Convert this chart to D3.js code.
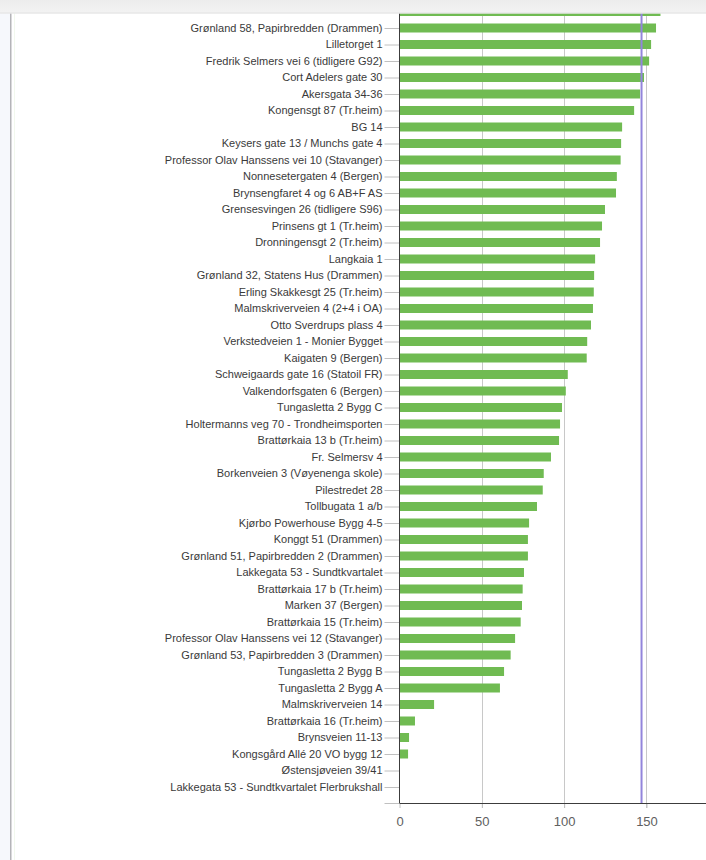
<!DOCTYPE html>
<html><head><meta charset="utf-8">
<script src="https://cdn.jsdelivr.net/npm/d3@7"></script>
<style>
html,body{margin:0;padding:0;background:#fff;overflow:hidden;}
svg{display:block;}
</style></head>
<body>
<svg id="c" width="706" height="860"></svg>
<script>
// Categories (top row is scrolled under the header; its label is not visible)
const categories = [
  "",
  "Grønland 58, Papirbredden (Drammen)",
  "Lilletorget 1",
  "Fredrik Selmers vei 6 (tidligere G92)",
  "Cort Adelers gate 30",
  "Akersgata 34-36",
  "Kongensgt 87 (Tr.heim)",
  "BG 14",
  "Keysers gate 13 / Munchs gate 4",
  "Professor Olav Hanssens vei 10 (Stavanger)",
  "Nonnesetergaten 4 (Bergen)",
  "Brynsengfaret 4 og 6 AB+F AS",
  "Grensesvingen 26 (tidligere S96)",
  "Prinsens gt 1 (Tr.heim)",
  "Dronningensgt 2 (Tr.heim)",
  "Langkaia 1",
  "Grønland 32, Statens Hus (Drammen)",
  "Erling Skakkesgt 25 (Tr.heim)",
  "Malmskriverveien 4 (2+4 i OA)",
  "Otto Sverdrups plass 4",
  "Verkstedveien 1 - Monier Bygget",
  "Kaigaten 9 (Bergen)",
  "Schweigaards gate 16 (Statoil FR)",
  "Valkendorfsgaten 6 (Bergen)",
  "Tungasletta 2 Bygg C",
  "Holtermanns veg 70 - Trondheimsporten",
  "Brattørkaia 13 b (Tr.heim)",
  "Fr. Selmersv 4",
  "Borkenveien 3 (Vøyenenga skole)",
  "Pilestredet 28",
  "Tollbugata 1 a/b",
  "Kjørbo Powerhouse Bygg 4-5",
  "Konggt 51 (Drammen)",
  "Grønland 51, Papirbredden 2 (Drammen)",
  "Lakkegata 53 - Sundtkvartalet",
  "Brattørkaia 17 b (Tr.heim)",
  "Marken 37 (Bergen)",
  "Brattørkaia 15 (Tr.heim)",
  "Professor Olav Hanssens vei 12 (Stavanger)",
  "Grønland 53, Papirbredden 3 (Drammen)",
  "Tungasletta 2 Bygg B",
  "Tungasletta 2 Bygg A",
  "Malmskriverveien 14",
  "Brattørkaia 16 (Tr.heim)",
  "Brynsveien 11-13",
  "Kongsgård Allé 20 VO bygg 12",
  "Østensjøveien 39/41",
  "Lakkegata 53 - Sundtkvartalet Flerbrukshall"
];
const values = [
  158.5,
  155.8, 152.8, 151.6, 148.5, 146.1, 142.5, 135.2, 134.6, 134.3, 132.0,
  131.5, 124.8, 123.0, 121.8, 118.8, 118.2, 118.0, 117.5, 116.3, 114.0,
  113.7, 102.2, 101.0, 98.7, 97.5, 96.9, 92.0, 87.6, 87.0, 83.5,
  78.7, 78.0, 78.0, 75.6, 74.8, 74.4, 73.6, 70.2, 67.5, 63.5,
  61.0, 21.0, 9.4, 5.8, 5.2, 0, 0
];
const xTicks = [0, 50, 100, 150];
const targetValue = 147;

const svg = d3.select("#c");
const W = 706, H = 860;
const axisY = 803;

// left page frame
svg.append("rect").attr("x",0).attr("y",0).attr("width",10).attr("height",H).attr("fill","#f6f8fc");
svg.append("rect").attr("x",10).attr("y",0).attr("width",1.5).attr("height",H).attr("fill","#b4b4b8");
svg.append("rect").attr("x",14).attr("y",0).attr("width",1).attr("height",H).attr("fill","#f2f8ee");

const x = d3.scaleLinear().domain([0,200]).range([399.5, 728.8]);
const y = d3.scalePoint().domain(categories.map((c,i)=>i)).range([11.5, 787]);
const barH = 9;

const g = svg.append("g");

// gridlines
g.selectAll("line.grid").data(xTicks.filter(t=>t>0)).join("line")
  .attr("class","grid")
  .attr("x1",d=>Math.round(x(d))+0.5).attr("x2",d=>Math.round(x(d))+0.5)
  .attr("y1",0).attr("y2",axisY+5)
  .attr("stroke","#c8c8c8").attr("stroke-width",1);

// bars
g.selectAll("rect.bar").data(values).join("rect")
  .attr("class","bar")
  .attr("x",x(0)+0.5)
  .attr("y",(d,i)=>y(i)-barH/2)
  .attr("width",d=>Math.max(0,x(d)-x(0)-0.5))
  .attr("height",barH)
  .attr("fill","#70bb52");

// target line
g.append("line")
  .attr("x1",x(targetValue)).attr("x2",x(targetValue))
  .attr("y1",0).attr("y2",axisY)
  .attr("stroke","#9385dc").attr("stroke-width",2);

// left axis (categories)
const yAxis = d3.axisLeft(y).tickSize(15).tickPadding(2).tickFormat(i=>categories[i]);
const ya = g.append("g").attr("transform",`translate(${x(0)},0)`).call(yAxis);
ya.select(".domain").remove();
ya.selectAll(".tick line").attr("stroke","#c0c0c0");
ya.selectAll(".tick text")
  .attr("fill","#3a3a3a")
  .attr("dy","0.28em")
  .style("font-family","'Liberation Sans', Arial, sans-serif")
  .style("font-size","11px");
// extra tick at bottom end
g.append("line").attr("x1",x(0)-15).attr("x2",x(0)).attr("y1",axisY+0.5).attr("y2",axisY+0.5).attr("stroke","#c0c0c0");
// axis line
g.append("line").attr("x1",x(0)).attr("x2",x(0)).attr("y1",0).attr("y2",axisY).attr("stroke","#3c3c3c").attr("stroke-width",1);

// bottom axis
const xAxis = d3.axisBottom(x).tickValues(xTicks).tickSize(5).tickPadding(9).tickFormat(d3.format("d"));
const xa = g.append("g").attr("transform",`translate(0,${axisY})`).call(xAxis);
xa.select(".domain").remove();
xa.selectAll(".tick line").attr("stroke","#c0c0c0");
xa.selectAll(".tick text")
  .attr("fill","#606060")
  .style("font-family","'Liberation Sans', Arial, sans-serif")
  .style("font-size","13px");
g.append("line").attr("x1",x(0)).attr("x2",W).attr("y1",axisY+0.5).attr("y2",axisY+0.5).attr("stroke","#3c3c3c").attr("stroke-width",1.2);

// header bar (page toolbar covering the scrolled-off top)
const defs = svg.append("defs");
const grad = defs.append("linearGradient").attr("id","hdr").attr("x1",0).attr("x2",0).attr("y1",0).attr("y2",1);
grad.append("stop").attr("offset","0%").attr("stop-color","#ececec");
grad.append("stop").attr("offset","100%").attr("stop-color","#f3f3f3");
svg.append("rect").attr("x",0).attr("y",0).attr("width",W).attr("height",13.5).attr("fill","url(#hdr)");
svg.append("rect").attr("x",0).attr("y",12.5).attr("width",W).attr("height",1).attr("fill","#e2e2e2");
</script>
</body></html>
